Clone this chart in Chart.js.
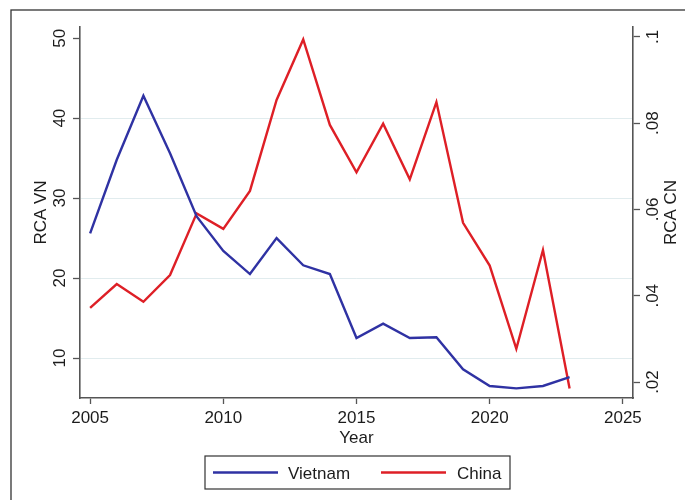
<!DOCTYPE html>
<html>
<head>
<meta charset="utf-8">
<script src="https://cdn.jsdelivr.net/npm/chart.js@4/dist/chart.umd.min.js"></script>
<style>
  html, body { margin: 0; padding: 0; background: #fff; }
  #wrap { width: 685px; height: 500px; }
</style>
</head>
<body>
<div id="wrap"><canvas id="c" width="685" height="500"></canvas></div>
<script>
// Revealed comparative advantage by year
const years = [2005, 2006, 2007, 2008, 2009, 2010, 2011, 2012, 2013, 2014,
               2015, 2016, 2017, 2018, 2019, 2020, 2021, 2022, 2023];
const rcaVN = [25.6, 34.8, 42.8, 35.6, 27.7, 23.4, 20.5, 25.0, 21.6, 20.5,
               12.5, 14.3, 12.5, 12.6, 8.6, 6.5, 6.2, 6.5, 7.6];
const rcaCN = [0.0372, 0.0427, 0.0386, 0.0448, 0.0591, 0.0555, 0.0643, 0.0854, 0.0994, 0.0796,
               0.0686, 0.0799, 0.0670, 0.0849, 0.0569, 0.0470, 0.0277, 0.0506, 0.0185];

// Axis ticks and their labels
const xTicks = [2005, 2010, 2015, 2020, 2025];
const leftTicks = [10, 20, 30, 40, 50];
const rightTicks = [0.02, 0.04, 0.06, 0.08, 0.1];
const rightTickLabels = ['.02', '.04', '.06', '.08', '.1'];

const seriesNames = ['Vietnam', 'China'];
const seriesColors = ['#2f32a3', '#de1f26'];
const FONT = '17px "Liberation Sans", Arial, sans-serif';
const TEXT = '#1c1c1c';
const AXIS = '#555555';

const pts = (vals) => years.map((y, i) => ({ x: y, y: vals[i] }));
const setTicks = (vals) => (s) => { s.ticks = vals.map(v => ({ value: v })); };

function rotatedText(ctx, str, x, y) {
  ctx.save();
  ctx.translate(x, y);
  ctx.rotate(-Math.PI / 2);
  ctx.textAlign = 'center';
  ctx.textBaseline = 'alphabetic';
  ctx.fillText(str, 0, 0);
  ctx.restore();
}

const decorations = {
  id: 'decorations',
  beforeDraw(chart) {
    const ctx = chart.ctx;
    ctx.save();
    ctx.fillStyle = '#fff';
    ctx.fillRect(0, 0, chart.width, chart.height);
    ctx.restore();
  },
  afterDraw(chart) {
    const ctx = chart.ctx;
    const sx = chart.scales.x, sl = chart.scales.yL, sr = chart.scales.yR;
    const area = chart.chartArea;
    ctx.save();

    // outer frame
    ctx.strokeStyle = '#333';
    ctx.lineWidth = 1.3;
    ctx.strokeRect(11, 10, 800, 700);

    ctx.fillStyle = TEXT;
    ctx.font = FONT;

    // x tick labels and title
    ctx.textAlign = 'center';
    ctx.textBaseline = 'alphabetic';
    xTicks.forEach(v => ctx.fillText(String(v), sx.getPixelForValue(v), 422.5));
    ctx.fillText('Year', (area.left + area.right) / 2, 443);

    // y tick labels (rotated)
    leftTicks.forEach(v => rotatedText(ctx, String(v), 65, sl.getPixelForValue(v)));
    rightTicks.forEach((v, i) => rotatedText(ctx, rightTickLabels[i], 658, sr.getPixelForValue(v)));

    const midY = (area.top + area.bottom) / 2;
    rotatedText(ctx, 'RCA VN', 46, midY);
    rotatedText(ctx, 'RCA CN', 676, midY);

    // legend box
    const bx = 205, by = 456, bw = 305, bh = 33;
    ctx.strokeStyle = '#333';
    ctx.lineWidth = 1.2;
    ctx.strokeRect(bx, by, bw, bh);
    const items = [
      { x0: 213, x1: 278, tx: 288 },
      { x0: 381, x1: 446, tx: 457 }
    ];
    ctx.textAlign = 'left';
    items.forEach((it, i) => {
      ctx.strokeStyle = seriesColors[i];
      ctx.lineWidth = 2.4;
      ctx.beginPath();
      ctx.moveTo(it.x0, 472.5);
      ctx.lineTo(it.x1, 472.5);
      ctx.stroke();
      ctx.fillStyle = TEXT;
      ctx.fillText(seriesNames[i], it.tx, 479);
    });
    ctx.restore();
  }
};

new Chart(document.getElementById('c'), {
  type: 'line',
  data: {
    datasets: [
      { label: seriesNames[0], data: pts(rcaVN), yAxisID: 'yL',
        borderColor: seriesColors[0], borderWidth: 2.4, pointRadius: 0, tension: 0 },
      { label: seriesNames[1], data: pts(rcaCN), yAxisID: 'yR',
        borderColor: seriesColors[1], borderWidth: 2.4, pointRadius: 0, tension: 0 }
    ]
  },
  options: {
    responsive: false,
    animation: false,
    events: [],
    layout: { padding: { top: 27, left: 0, right: 0, bottom: 0 } },
    plugins: { legend: { display: false }, tooltip: { enabled: false } },
    scales: {
      x: {
        type: 'linear', position: 'bottom', min: 2004.62, max: 2025.38,
        afterBuildTicks: setTicks(xTicks),
        afterFit: (s) => { s.height = 102; },
        ticks: { display: false },
        grid: { drawOnChartArea: false, drawTicks: true, tickLength: 6, tickColor: AXIS, tickWidth: 1.3 },
        border: { color: AXIS, width: 1.6 }
      },
      yL: {
        type: 'linear', position: 'left', min: 5.0, max: 51.4,
        afterBuildTicks: setTicks(leftTicks),
        afterFit: (s) => { s.width = 80; },
        ticks: { display: false },
        grid: {
          color: (c) => (c.tick && c.tick.value < 50 ? '#e1ecee' : 'rgba(0,0,0,0)'),
          lineWidth: 1, drawTicks: true, tickLength: 7, tickColor: AXIS, tickWidth: 1.3
        },
        border: { color: AXIS, width: 1.6 }
      },
      yR: {
        type: 'linear', position: 'right', min: 0.0163, max: 0.1023,
        afterBuildTicks: setTicks(rightTicks),
        afterFit: (s) => { s.width = 52; },
        ticks: { display: false },
        grid: { drawOnChartArea: false, drawTicks: true, tickLength: 7, tickColor: AXIS, tickWidth: 1.3 },
        border: { color: AXIS, width: 1.6 }
      }
    }
  },
  plugins: [decorations]
});
</script>
</body>
</html>
